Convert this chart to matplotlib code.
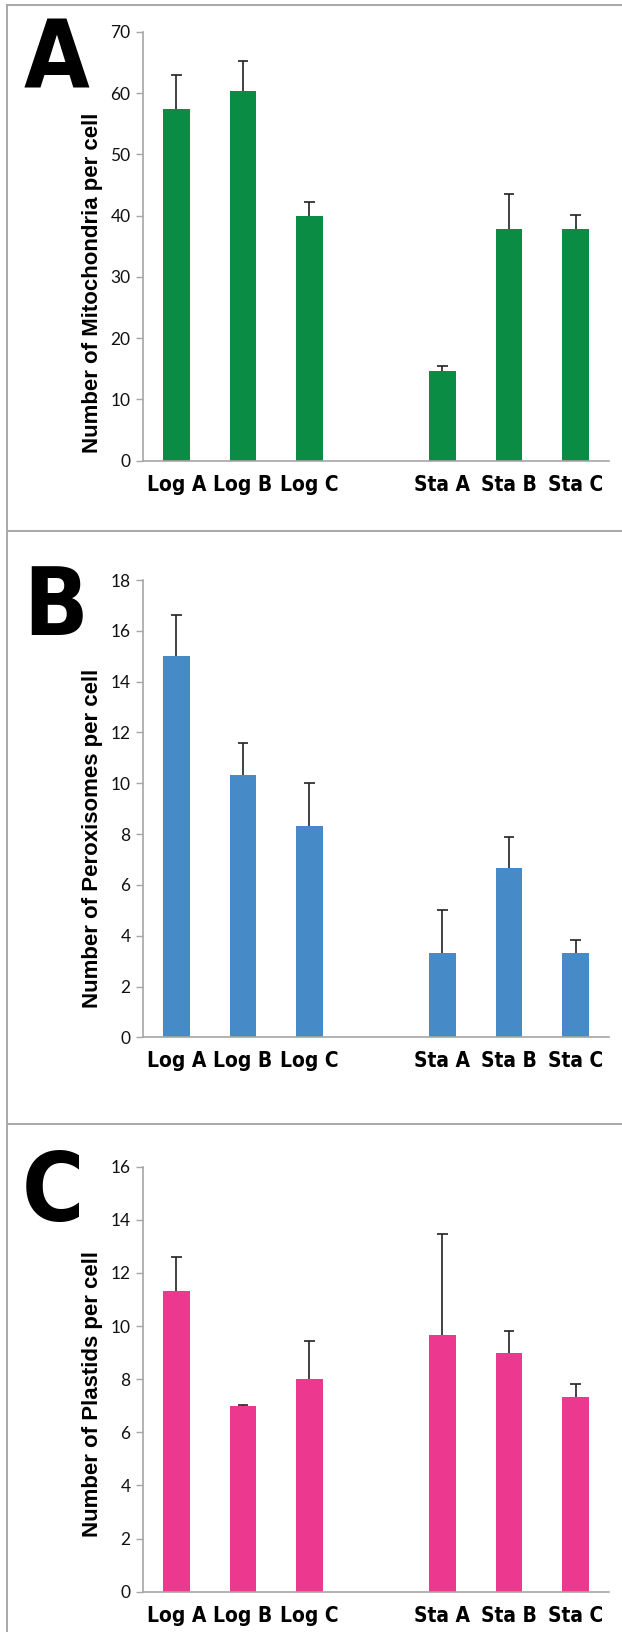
import numpy as np
import matplotlib
matplotlib.use("Agg")
import matplotlib.pyplot as plt
from matplotlib.lines import Line2D

# data
labels = ["Log A", "Log B", "Log C", "Sta A", "Sta B", "Sta C"]

mito_mean = [57.5, 60.3, 40.0, 14.6, 37.9, 37.9]
mito_err = [5.4, 5.0, 2.2, 0.9, 5.7, 2.2]

perox_mean = [15.0, 10.33, 8.33, 3.33, 6.67, 3.33]
perox_err = [1.63, 1.27, 1.7, 1.7, 1.23, 0.5]

plast_mean = [11.33, 7.0, 8.0, 9.67, 9.0, 7.33]
plast_err = [1.27, 0.03, 1.43, 3.8, 0.83, 0.5]

# 7 slots, the 4th one is left empty between Log and Sta
xpos = np.array([0, 1, 2, 4, 5, 6])

panels = [
    ("A", mito_mean, mito_err, "#0A8C44", 70, 10, "Number of Mitochondria per cell",
     [0.2299, 0.7177, 0.749, 0.2627], 0.416),
    ("B", perox_mean, perox_err, "#468AC8", 18, 2, "Number of Peroxisomes per cell",
     [0.2299, 0.3643, 0.749, 0.2803], 0.435),
    ("C", plast_mean, plast_err, "#EC388E", 16, 2, "Number of Plastids per cell",
     [0.2299, 0.0247, 0.749, 0.2604], 0.466),
]

narrow = ["DejaVu Sans"]
axis_grey = "#A6A6A6"

fig = plt.figure(figsize=(6.22, 16.32), dpi=100)

for letter, mean, err, color, ymax, step, ylabel, rect, lab_y in panels:
    ax = fig.add_axes(rect)
    mean = np.array(mean)
    top = mean + np.array(err)
    ax.bar(xpos, mean, width=0.4, color=color, edgecolor="none", zorder=2)
    # upper error bars only
    ax.vlines(xpos, mean, top, color="#222222", lw=1.2, zorder=3)
    ax.hlines(top, xpos - 0.08, xpos + 0.08, color="#222222", lw=1.2, zorder=3)
    ax.set_xlim(-0.5, 6.5)
    ax.set_ylim(0, ymax)
    ax.set_yticks(np.arange(0, ymax + 1, step))
    ax.set_xticks(xpos)
    ax.set_xticklabels(labels, fontfamily=narrow, fontstretch="condensed",
                       fontweight="bold", fontsize=15)
    for t in ax.get_yticklabels():
        t.set_fontfamily(["Lato", "DejaVu Sans"])
        t.set_fontsize(12.5)
        t.set_color("#111111")
    ax.tick_params(axis="x", length=0, pad=10)
    ax.tick_params(axis="y", length=5, width=1, color=axis_grey, pad=4)
    for s in ["top", "right"]:
        ax.spines[s].set_visible(False)
    for s in ["left", "bottom"]:
        ax.spines[s].set_color(axis_grey)
        ax.spines[s].set_linewidth(1.2)
    ax.text(-0.109, lab_y, ylabel, transform=ax.transAxes, rotation=90,
            ha="center", va="center", fontsize=16, fontweight="bold",
            family=["Liberation Sans", "DejaVu Sans"])

# panel letters
for letter, x_px, base_px in [("A", 24, 89), ("B", 23, 635), ("C", 22, 1221)]:
    fig.text(x_px / 622, 1 - base_px / 1632, letter, fontsize=68, fontweight="bold",
             family=narrow, fontstretch="condensed", ha="left", va="baseline")

# panel frame lines
border = "#A8A8A8"
for yy in [5, 531, 1124]:
    fig.add_artist(Line2D([7 / 622, 1], [1 - yy / 1632] * 2, color=border, lw=1.4,
                          transform=fig.transFigure))
fig.add_artist(Line2D([7 / 622] * 2, [0, 1 - 5 / 1632], color=border, lw=1.4,
                      transform=fig.transFigure))

fig.savefig("out.png", dpi=100)
